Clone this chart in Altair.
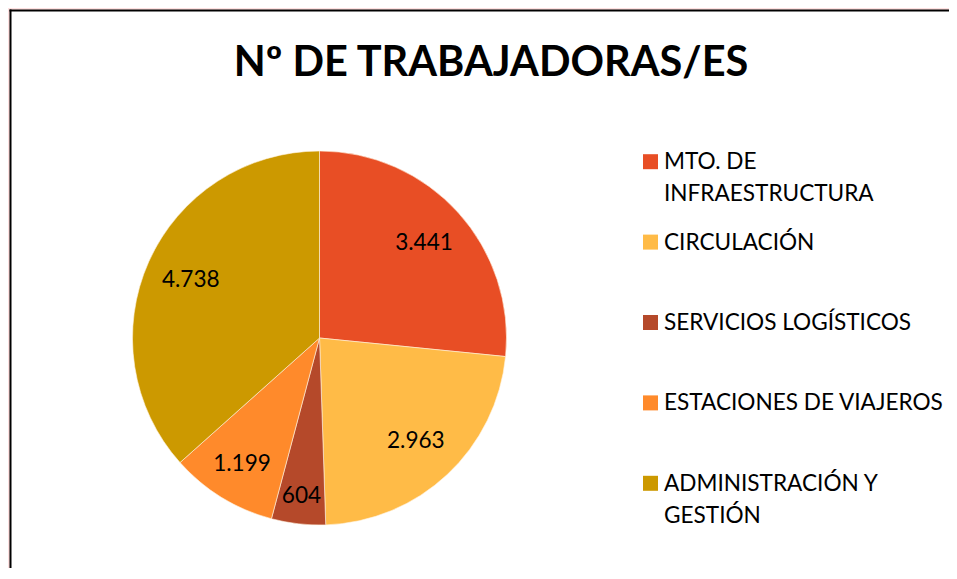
import altair as alt
import pandas as pd

# ---- data ----
categories = [
    "MTO. DE\nINFRAESTRUCTURA",
    "CIRCULACIÓN",
    "SERVICIOS LOGÍSTICOS",
    "ESTACIONES DE VIAJEROS",
    "ADMINISTRACIÓN Y\nGESTIÓN",
]
values = [3441, 2963, 604, 1199, 4738]
colors = ["#E84E25", "#FFBB47", "#B5492A", "#FF8A2B", "#CC9900"]
title_text = "Nº DE TRABAJADORAS/ES"

df = pd.DataFrame({"cat": categories, "value": values, "idx": list(range(len(categories)))})
total = int(sum(values))

# ---- layout ----
W, H = 941, 560
CX, CY, R = 311.5, 330, 187
FONT = "Lato"
FS = 22.6

color = alt.Color("cat:N", scale=alt.Scale(domain=categories, range=colors), legend=None)
theta_scale = alt.Scale(domain=[0, total])
base = alt.Chart(df)
one = alt.Chart(pd.DataFrame({"a": [0]}))

pink = one.mark_rect(fill="#FFE1E1").encode(
    x=alt.value(0), x2=alt.value(W + 20), y=alt.value(0), y2=alt.value(H + 20)
)
panel = one.mark_rect(fill="white").encode(
    x=alt.value(2.5), x2=alt.value(W + 20), y=alt.value(2.5), y2=alt.value(H + 20)
)
border_top = one.mark_rule(color="black", strokeWidth=2).encode(
    x=alt.value(1.5), x2=alt.value(W + 20), y=alt.value(2.5)
)
border_left = one.mark_rule(color="black", strokeWidth=2).encode(
    x=alt.value(2.5), y=alt.value(1.5), y2=alt.value(H + 20)
)

pie = base.mark_arc(stroke="#FFF3E0", strokeWidth=0.6, outerRadius=R).encode(
    theta=alt.Theta("value:Q", stack=True, scale=theta_scale),
    order=alt.Order("idx:Q"),
    color=color,
    x=alt.value(CX),
    y=alt.value(CY),
)

labels = base.transform_window(
    cum="sum(value)", sort=[alt.SortField("idx")]
).transform_calculate(
    mid="datum.cum - datum.value / 2",
    lab="replace(format(datum.value, ','), ',', '.')",
    r="datum.value < 1000 ? 159 : (datum.value < 2000 ? 148 : 141)",
).mark_text(font=FONT, fontSize=FS, color="black", align="center", baseline="middle").encode(
    theta=alt.Theta("mid:Q", stack=False, scale=theta_scale),
    radius=alt.Radius("r:Q", scale=None),
    text="lab:N",
    x=alt.value(CX),
    y=alt.value(CY),
)

leg_y = alt.Y(
    "cat:N",
    sort=categories,
    scale=alt.Scale(type="point", range=[153.7, 475.3], padding=0),
    axis=None,
)

leg_sq = base.mark_square(size=225, opacity=1).encode(
    x=alt.value(642.5), y=leg_y, color=color
)

leg_txt = base.mark_text(
    align="left", baseline="alphabetic", dy=7.5, lineBreak="\n",
    font=FONT, fontSize=FS, lineHeight=32, color="black",
).encode(x=alt.value(656), y=leg_y, text="cat:N")

title = alt.Chart(pd.DataFrame({"t": [title_text]})).mark_text(
    font=FONT, fontSize=41.5, fontWeight="bold", color="black",
    align="center", baseline="alphabetic",
).encode(x=alt.value(483), y=alt.value(68), text="t:N")

chart = alt.layer(pink, panel, border_top, border_left, pie, labels, leg_sq, leg_txt, title).properties(
    width=W, height=H, background="white", padding=0, autosize="none"
).configure_view(stroke=None)

chart.save("out.html", embed_options={"renderer": "svg", "actions": False})
